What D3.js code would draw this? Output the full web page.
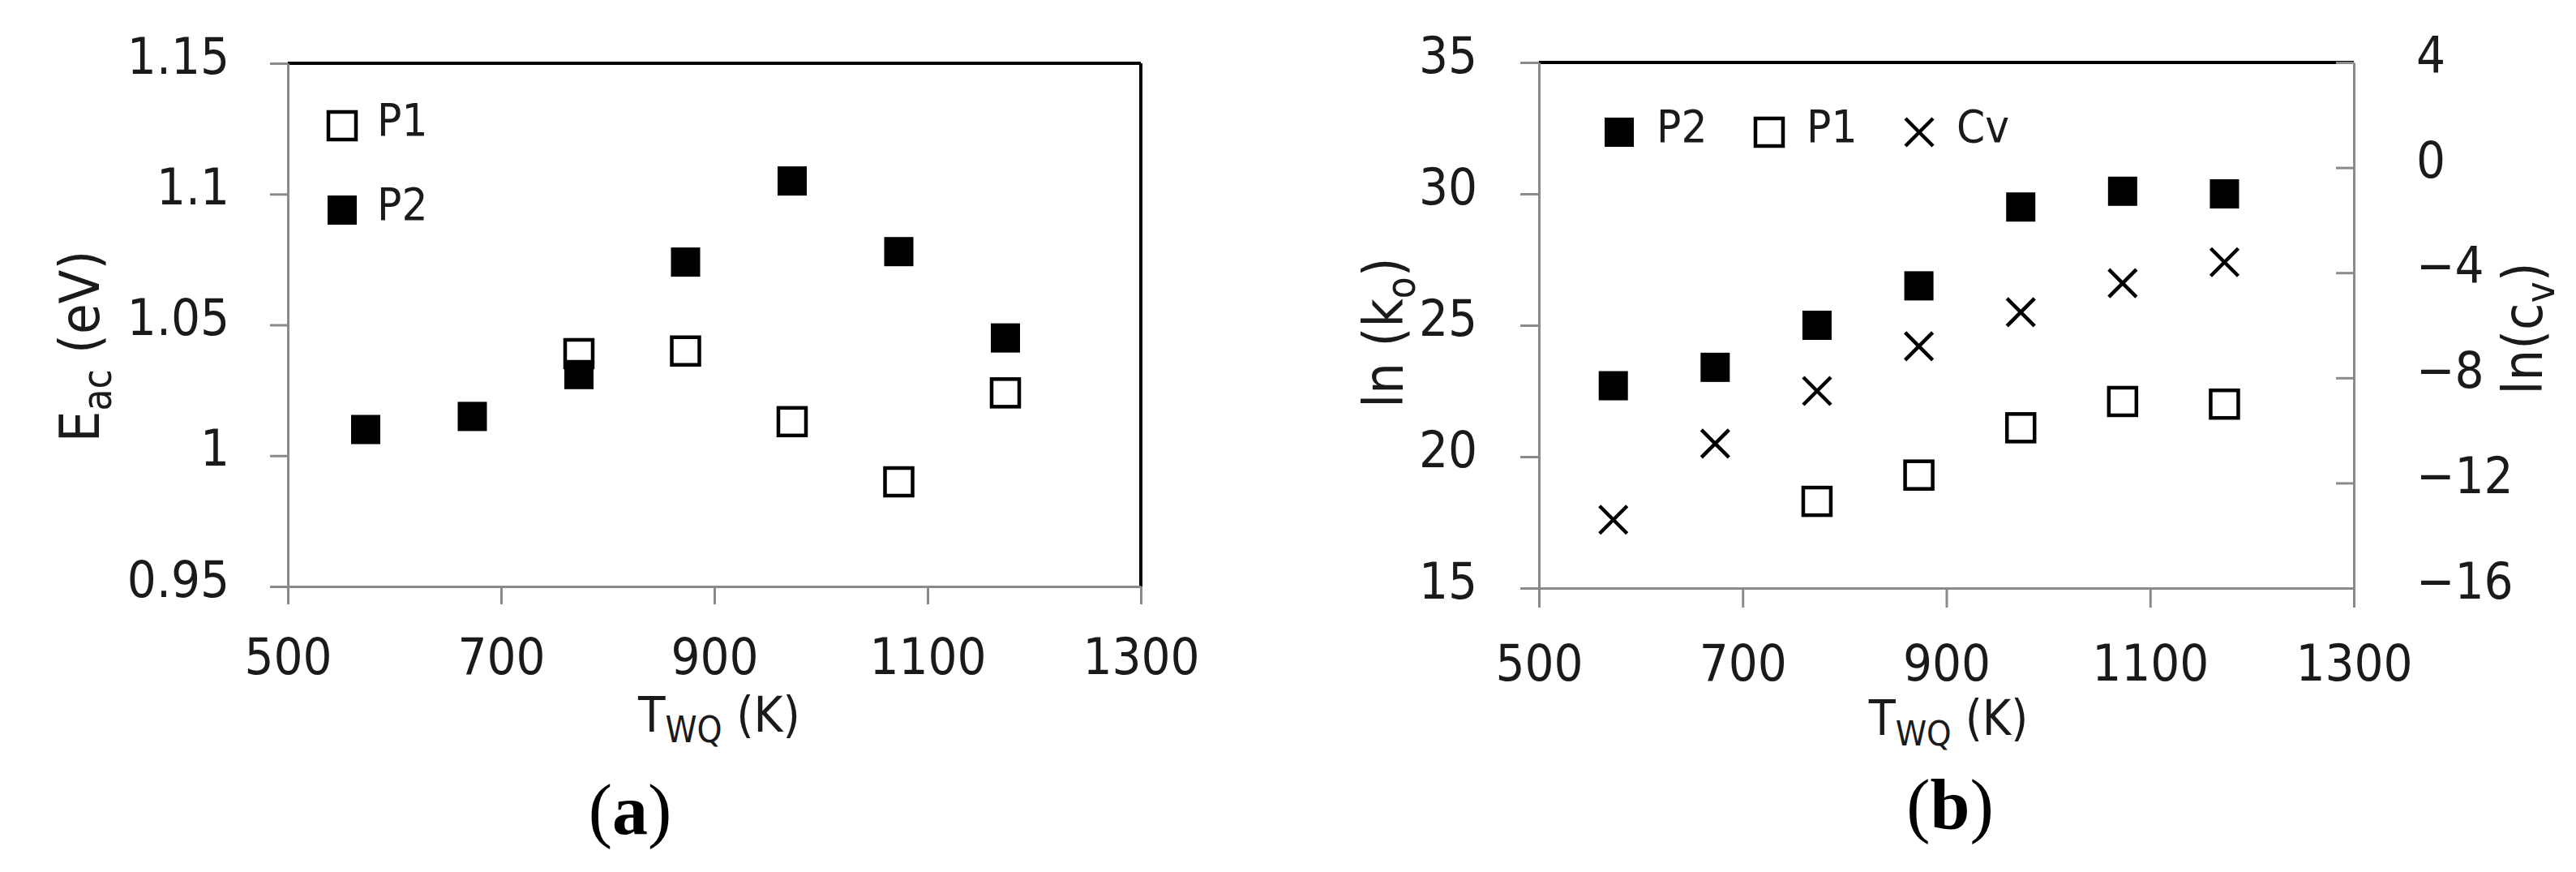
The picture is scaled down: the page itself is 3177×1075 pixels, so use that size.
<!DOCTYPE html>
<html>
<head>
<meta charset="utf-8">
<script src="https://cdn.jsdelivr.net/npm/d3@7"></script>
<style>
  body { margin: 0; background: #fff; }
  text { font-family: "DejaVu Sans Condensed", "DejaVu Sans", sans-serif; font-stretch: condensed; fill: #1a1a1a; }
  text.tag { font-family: "Liberation Serif", "DejaVu Serif", serif; font-stretch: normal; fill: #000; }
</style>
</head>
<body>
<svg id="chart" width="3177" height="1075"></svg>
<script>
// quench temperatures (K)
var temps = [573, 673, 773, 873, 973, 1073, 1173];

// (a) activation energy, eV
var eacP1 = [null, null, 1.039, 1.040, 1.013, 0.990, 1.024];
var eacP2 = [1.010, 1.015, 1.031, 1.074, 1.105, 1.078, 1.045];

// (b) ln(k0) and ln(cv)
var lnkP2 = [22.7, 23.4, 25.0, 26.5, 29.5, 30.1, 30.0];
var lnkP1 = [null, null, 18.3, 19.3, 21.1, 22.1, 22.0];
var lnCv = [-13.4, -10.5, -8.5, -6.8, -5.5, -4.4, -3.6];

var xTicks = [500, 700, 900, 1100, 1300];
var eacTicks = [0.95, 1, 1.05, 1.1, 1.15];
var lnkTicks = [15, 20, 25, 30, 35];
var cvTicks = [-16, -12, -8, -4, 0, 4];

var legendA = [{ label: "P1", type: "open" }, { label: "P2", type: "filled" }];
var legendB = [{ label: "P2", type: "filled" }, { label: "P1", type: "open" }, { label: "Cv", type: "cross" }];

var svg = d3.select("#chart");
var grey = "#8a8a8a";

var panelA = { left: 355, right: 1407, top: 78, bottom: 723 };
var panelB = { left: 1898, right: 2903, top: 77, bottom: 725 };

function styleAxis(g) {
  g.attr("font-size", 63);
  g.select(".domain").attr("stroke", grey).attr("stroke-width", 3);
  g.selectAll(".tick line").attr("stroke", grey).attr("stroke-width", 3);
  g.selectAll(".tick text").attr("fill", "#1a1a1a");
}

function minus(d) {
  return d < 0 ? "\u2212" + Math.abs(d) : String(d);
}

function marker(g, type, cx, cy) {
  if (type === "filled") {
    g.append("rect").attr("x", cx - 18).attr("y", cy - 18)
      .attr("width", 36).attr("height", 36).attr("fill", "#000");
  } else if (type === "open") {
    g.append("rect").attr("x", cx - 17).attr("y", cy - 17)
      .attr("width", 34).attr("height", 34)
      .attr("fill", "#fff").attr("stroke", "#000").attr("stroke-width", 4.5);
  } else {
    var h = 17;
    g.append("path")
      .attr("d", "M" + (cx - h) + "," + (cy - h) + "L" + (cx + h) + "," + (cy + h) +
                 "M" + (cx - h) + "," + (cy + h) + "L" + (cx + h) + "," + (cy - h))
      .attr("stroke", "#000").attr("stroke-width", 4.5).attr("fill", "none");
  }
}

function series(g, xs, ys, yScale, xScale, type) {
  d3.zip(xs, ys).filter(function (d) { return d[1] != null; }).forEach(function (d) {
    marker(g, type, xScale(d[0]), yScale(d[1]));
  });
}

function richText(g, x, y, rotate, parts, size) {
  var t = g.append("text")
    .attr("text-anchor", "middle")
    .attr("font-size", size)
    .attr("transform", "translate(" + x + "," + y + ")" + (rotate ? " rotate(-90)" : ""));
  var shift = Math.round(size * 0.22);
  parts.forEach(function (p) {
    if (p.sub) {
      t.append("tspan").attr("font-size", size * 0.72).attr("dy", shift).text(p.text);
    } else {
      t.append("tspan").attr("dy", p.after ? -shift : 0).text(p.text);
    }
  });
  return t;
}

// ---------- panel (a) ----------
var xA = d3.scaleLinear().domain([500, 1300]).range([panelA.left, panelA.right]);
var yA = d3.scaleLinear().domain([0.95, 1.15]).range([panelA.bottom, panelA.top]);

var gA = svg.append("g");

gA.append("line").attr("x1", panelA.left).attr("x2", panelA.right)
  .attr("y1", panelA.top).attr("y2", panelA.top)
  .attr("stroke", "#000").attr("stroke-width", 4);
gA.append("line").attr("x1", panelA.right).attr("x2", panelA.right)
  .attr("y1", panelA.top).attr("y2", panelA.bottom)
  .attr("stroke", "#000").attr("stroke-width", 4);

gA.append("g").attr("transform", "translate(0," + panelA.bottom + ")")
  .call(d3.axisBottom(xA).tickValues(xTicks).tickSize(22).tickSizeOuter(0).tickFormat(d3.format("d")))
  .call(styleAxis)
  .call(function (g) { g.selectAll(".tick text").attr("y", 108).attr("dy", 0); });

gA.append("g").attr("transform", "translate(" + panelA.left + ",0)")
  .call(d3.axisLeft(yA).tickValues(eacTicks).tickSize(22).tickSizeOuter(0).tickPadding(50)
    .tickFormat(function (d) { return String(d); }))
  .call(styleAxis)
  .call(function (g) { g.selectAll(".tick text").attr("dy", 12); });

series(gA, temps, eacP1, yA, xA, "open");
series(gA, temps, eacP2, yA, xA, "filled");

legendA.forEach(function (d, i) {
  var cx = panelA.left + 67, cy = panelA.top + 77 + i * 104;
  marker(gA, d.type, cx, cy);
  gA.append("text").attr("x", cx + 43).attr("y", cy + 12).attr("font-size", 56).text(d.label);
});

richText(gA, 887, 902, false, [{ text: "T" }, { text: "WQ", sub: true }, { text: " (K)", after: true }], 61);
richText(gA, 122, 427, true, [{ text: "E" }, { text: "ac", sub: true }, { text: " (eV)", after: true }], 68);

var tagA = gA.append("text").attr("class", "tag").attr("x", 777).attr("y", 1028)
  .attr("text-anchor", "middle").attr("font-size", 88);
tagA.append("tspan").text("(");
tagA.append("tspan").attr("font-weight", "bold").text("a");
tagA.append("tspan").text(")");

// ---------- panel (b) ----------
var xB = d3.scaleLinear().domain([500, 1300]).range([panelB.left, panelB.right]);
var yB = d3.scaleLinear().domain([15, 35]).range([panelB.bottom, panelB.top]);
var yCv = d3.scaleLinear().domain([-16, 4]).range([panelB.bottom, panelB.top]);

var gB = svg.append("g");

gB.append("line").attr("x1", panelB.left).attr("x2", panelB.right)
  .attr("y1", panelB.top).attr("y2", panelB.top)
  .attr("stroke", "#000").attr("stroke-width", 4);

gB.append("g").attr("transform", "translate(0," + panelB.bottom + ")")
  .call(d3.axisBottom(xB).tickValues(xTicks).tickSize(24).tickSizeOuter(0).tickFormat(d3.format("d")))
  .call(styleAxis)
  .call(function (g) { g.selectAll(".tick text").attr("y", 114).attr("dy", 0); });

gB.append("g").attr("transform", "translate(" + panelB.left + ",0)")
  .call(d3.axisLeft(yB).tickValues(lnkTicks).tickSize(23).tickSizeOuter(0).tickPadding(53))
  .call(styleAxis)
  .call(function (g) { g.selectAll(".tick text").attr("dy", 12); });

gB.append("g").attr("transform", "translate(" + panelB.right + ",0)")
  .call(d3.axisRight(yCv).tickValues(cvTicks).tickSize(-22).tickSizeOuter(0).tickPadding(77).tickFormat(minus))
  .call(styleAxis)
  .call(function (g) { g.selectAll(".tick text").attr("dy", 12); });

series(gB, temps, lnkP2, yB, xB, "filled");
series(gB, temps, lnkP1, yB, xB, "open");
series(gB, temps, lnCv, yCv, xB, "cross");

legendB.forEach(function (d, i) {
  var cx = panelB.left + 99 + i * 185, cy = panelB.top + 86;
  marker(gB, d.type, cx, cy);
  gB.append("text").attr("x", cx + 46).attr("y", cy + 12).attr("font-size", 56).text(d.label);
});

richText(gB, 2403, 906, false, [{ text: "T" }, { text: "WQ", sub: true }, { text: " (K)", after: true }], 60);
richText(gB, 1730, 410, true, [{ text: "ln (k" }, { text: "o", sub: true }, { text: ")", after: true }], 68);
richText(gB, 3135, 405, true, [{ text: "ln(c" }, { text: "v", sub: true }, { text: ")", after: true }], 68);

var tagB = gB.append("text").attr("class", "tag").attr("x", 2405).attr("y", 1022)
  .attr("text-anchor", "middle").attr("font-size", 88);
tagB.append("tspan").text("(");
tagB.append("tspan").attr("font-weight", "bold").text("b");
tagB.append("tspan").text(")");
</script>
</body>
</html>
